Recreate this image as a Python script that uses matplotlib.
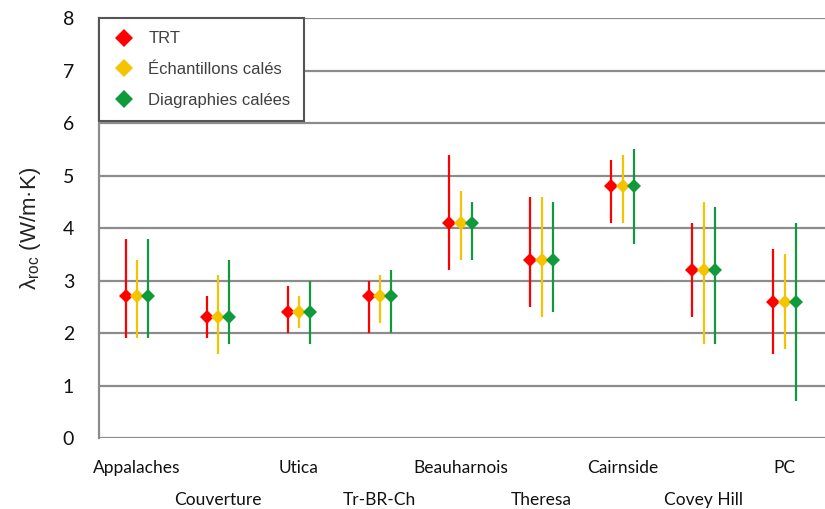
import matplotlib
matplotlib.use('Agg')
import matplotlib.pyplot as plt
from matplotlib.lines import Line2D
import numpy as np

# ── Data ─────────────────────────────────────────────────────────────────────
SITES = ["Appalaches", "Couverture", "Utica", "Tr-BR-Ch", "Beauharnois",
         "Theresa", "Cairnside", "Covey Hill", "PC"]
SERIES = ["TRT", "Échantillons calés", "Diagraphies calées"]

TRT_MID = [2.7, 2.3, 2.4, 2.7, 4.1, 3.4, 4.8, 3.2, 2.6]
TRT_LO  = [1.9, 1.9, 2.0, 2.0, 3.2, 2.5, 4.1, 2.3, 1.6]
TRT_HI  = [3.8, 2.7, 2.9, 3.0, 5.4, 4.6, 5.3, 4.1, 3.6]

ECH_MID = [2.7, 2.3, 2.4, 2.7, 4.1, 3.4, 4.8, 3.2, 2.6]
ECH_LO  = [1.9, 1.6, 2.1, 2.2, 3.4, 2.3, 4.1, 1.8, 1.7]
ECH_HI  = [3.4, 3.1, 2.7, 3.1, 4.7, 4.6, 5.4, 4.5, 3.5]

DIA_MID = [2.7, 2.3, 2.4, 2.7, 4.1, 3.4, 4.8, 3.2, 2.6]
DIA_LO  = [1.9, 1.8, 1.8, 2.0, 3.4, 2.4, 3.7, 1.8, 0.7]
DIA_HI  = [3.8, 3.4, 3.0, 3.2, 4.5, 4.5, 5.5, 4.4, 4.1]

COLORS = ["#ff0000", "#f5c400", "#109a3c"]
GRID = "#8c8c8c"

fig = plt.figure(figsize=(8.25, 5.09), dpi=100)
fig.patch.set_facecolor("white")
ax = fig.add_axes([0.12, 0.1395, 0.88, 0.825])

x = np.arange(len(SITES))
offsets = [-0.14, 0.0, 0.14]
groups = [(TRT_MID, TRT_LO, TRT_HI), (ECH_MID, ECH_LO, ECH_HI),
          (DIA_MID, DIA_LO, DIA_HI)]

for (mid, lo, hi), off, col in zip(groups, offsets, COLORS):
    mid = np.array(mid); lo = np.array(lo); hi = np.array(hi)
    ax.errorbar(x + off, mid, yerr=[mid - lo, hi - mid], fmt="D",
                color=col, ecolor=col, elinewidth=1.6, capsize=0,
                markersize=7, markeredgewidth=0, zorder=3)

# grid / frame
ax.set_ylim(0, 8)
ax.set_xlim(-0.47, 8.5)
ax.set_yticks(range(0, 9))
ax.yaxis.grid(True, color=GRID, lw=1.6, zorder=0)
ax.set_axisbelow(True)
for s in ["top", "right", "bottom"]:
    ax.spines[s].set_visible(False)
ax.spines["left"].set_color(GRID)
ax.spines["left"].set_linewidth(1.6)
ax.tick_params(axis="y", length=0, pad=18, labelsize=14, labelcolor="#111111")
for lbl in ax.get_yticklabels():
    lbl.set_fontfamily("Lato")

# staggered category labels: even on first row, odd on second
ax.set_xticks(x[::2], [SITES[i] for i in x[::2]])
ax.set_xticks(x[1::2], [SITES[i] for i in x[1::2]], minor=True)
ax.tick_params(axis="x", which="major", length=0, pad=16, labelsize=12.5)
ax.tick_params(axis="x", which="minor", length=0, pad=39, labelsize=12.5)
for lbl in ax.get_xticklabels() + ax.get_xticklabels(minor=True):
    lbl.set_fontfamily("Lato")
    lbl.set_color("#111111")

ax.set_ylabel("λ$_\\mathregular{roc}$ (W/m·K)", fontsize=16,
              fontfamily="Liberation Sans", color="#222222", labelpad=14)

handles = [Line2D([], [], marker="D", ls="none", color=c, markersize=9,
                  markeredgewidth=0) for c in COLORS]
leg = ax.legend(handles, SERIES, loc="upper left", bbox_to_anchor=(0, 1),
                borderaxespad=0, fancybox=False, framealpha=1,
                edgecolor="#555555", prop={"family": "Liberation Sans", "size": 12},
                labelspacing=0.95, handletextpad=0.75, borderpad=0.8,
                handlelength=1.4)
leg.get_frame().set_linewidth(1.5)
for t in leg.get_texts():
    t.set_color("#404040")

plt.savefig("out.png", dpi=100, facecolor="white")
